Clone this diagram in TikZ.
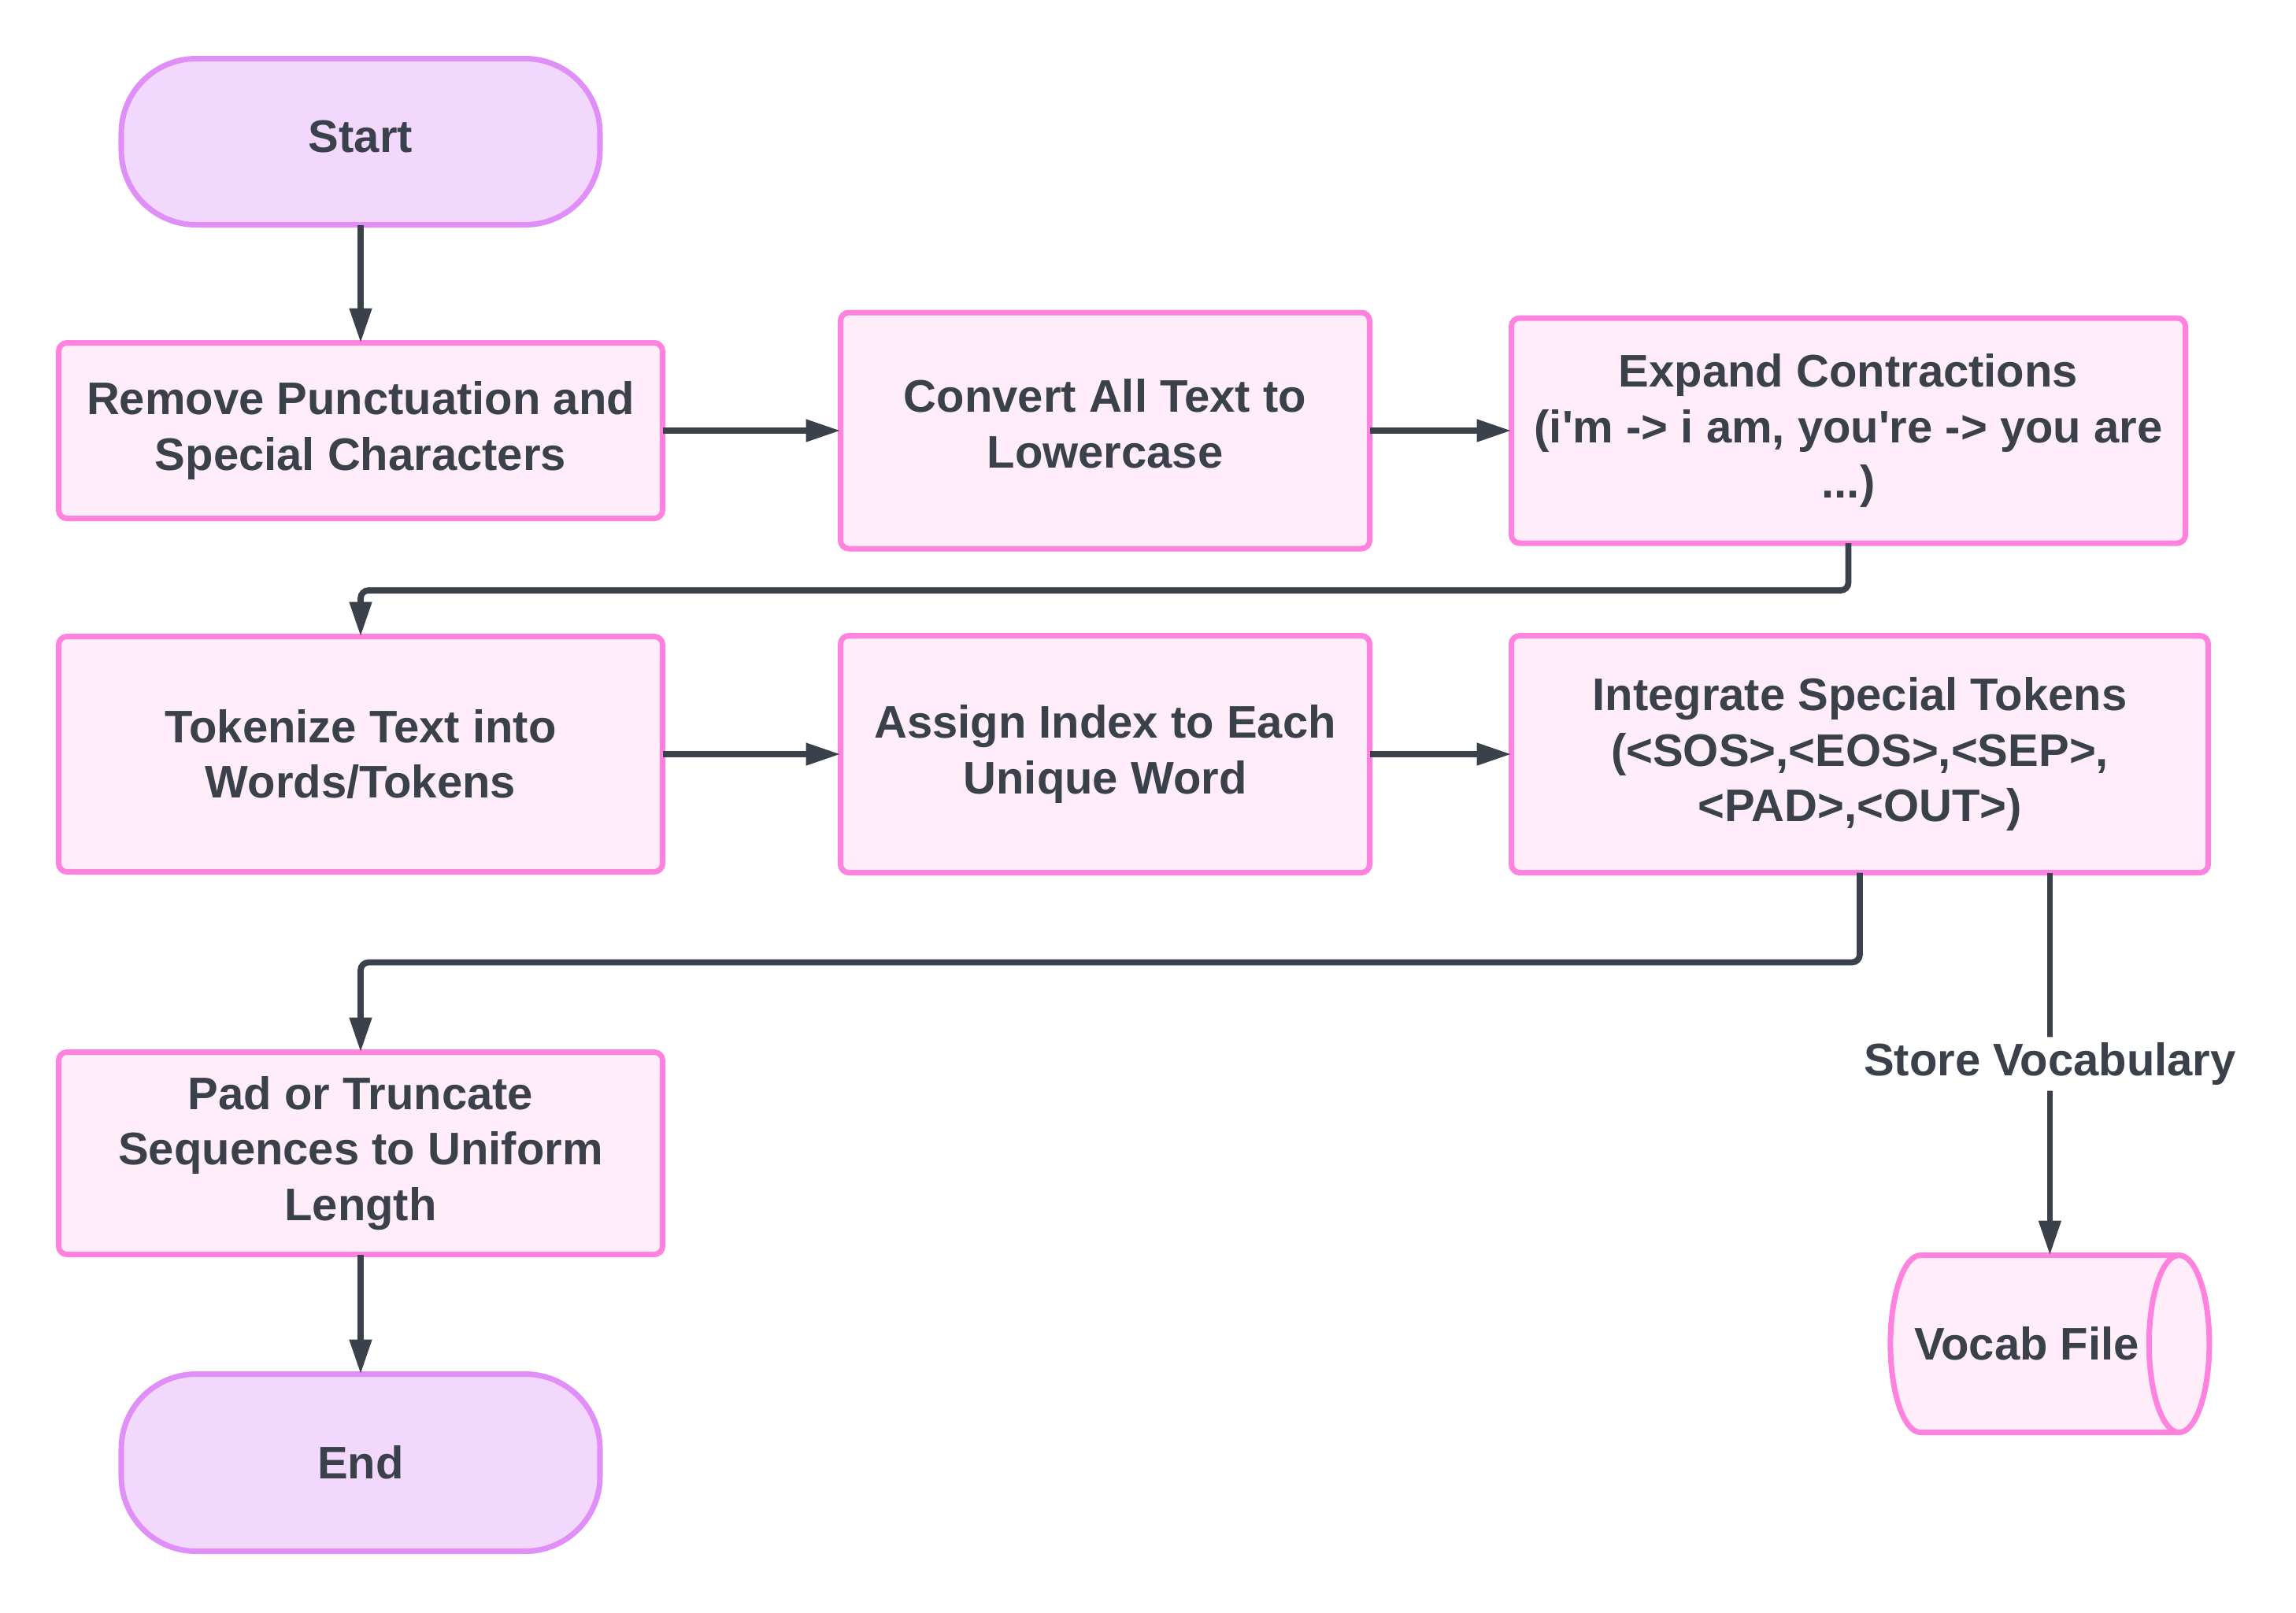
\documentclass[tikz,border=0pt]{standalone}
\usepackage{fontspec}
\setmainfont{Liberation Sans}
\usepackage{xcolor}
\usepackage{tikz}
\usetikzlibrary{arrows.meta,positioning,shapes.geometric}
\definecolor{FInk}{HTML}{3A414A}
\definecolor{FPink}{HTML}{FF82DE}
\definecolor{FPinkFill}{HTML}{FFEEF9}
\definecolor{FLilac}{HTML}{E08FF8}
\definecolor{FLilacFill}{HTML}{F2D8FD}

\begin{document}
\begin{tikzpicture}[
  node distance=1.5cm,
  font=\fontsize{16.5}{20.1}\selectfont\bfseries,
  pbox/.style={draw=FPink,line width=2pt,fill=FPinkFill,rounded corners=3pt,
    align=center,text=FInk,inner sep=0pt,outer sep=0pt},
  tbox/.style={draw=FLilac,line width=2pt,fill=FLilacFill,rounded corners=0.95cm,
    align=center,text=FInk,minimum width=6.08cm,minimum height=2.11cm,inner sep=0pt,outer sep=0pt},
  dcyl/.style={cylinder,draw=FPink,line width=2pt,fill=FPinkFill,aspect=1.16,
    minimum width=2.25cm,minimum height=4.05cm,inner xsep=2pt,text=FInk,outer sep=0pt},
  a/.style={-{Triangle[length=4.4mm,width=2.7mm]},line width=2.2pt,draw=FInk,rounded corners=1mm},
  lab/.style={fill=white,text=FInk,inner sep=2pt}
]
  \useasboundingbox (0,0) rectangle (29.16,-20.48);
  \node[tbox,text depth=4pt] (start) at (4.58,-1.80) {Start};
  \node[pbox,minimum width=7.67cm,minimum height=2.23cm,below=of start] (remove) {Remove Punctuation and\\Special Characters};
  \node[pbox,minimum width=6.72cm,minimum height=3.00cm,text depth=5pt,right=2.26cm of remove] (lower) {Convert All Text to\\Lowercase};
  \node[pbox,minimum width=8.56cm,minimum height=2.86cm,right=1.80cm of lower] (expand) {Expand Contractions\\(i\textquotesingle m -> i am, you\textquotesingle re -> you are\\...)};
  \node[pbox,minimum width=7.67cm,minimum height=2.99cm,below=of remove] (tokenize) {Tokenize Text into\\Words/Tokens};
  \node[pbox,minimum width=6.72cm,minimum height=3.01cm,right=2.26cm of tokenize] (index) {Assign Index to Each\\Unique Word};
  \node[pbox,minimum width=8.85cm,minimum height=3.01cm,right=1.80cm of index] (special) {Integrate Special Tokens\\(<SOS>,<EOS>,<SEP>,\\<PAD>,<OUT>)};
  \node[pbox,minimum width=7.67cm,minimum height=2.57cm,below=2.29cm of tokenize] (pad) {Pad or Truncate\\Sequences to Uniform\\Length};
  \node[tbox,minimum height=2.25cm,below=1.52cm of pad] (stop) {End};
  \node[dcyl,below=4.86cm of special,xshift=2.12cm] (vocab) {Vocab File};
  \draw[a] (start) -- (remove);
  \draw[a] (remove) -- (lower);
  \draw[a] (lower) -- (expand);
  \draw[a] (expand.south) -- ++(0,-0.6) -| (tokenize.north);
  \draw[a] (tokenize) -- (index);
  \draw[a] (index) -- (special);
  \draw[a] (special.south) -- ++(0,-1.14) -| (pad.north);
  \draw[a] (vocab.shape center |- special.south) -- node[lab] {Store Vocabulary} (vocab.shape center |- vocab.north);
  \draw[a] (pad) -- (stop);
\end{tikzpicture}
\end{document}
